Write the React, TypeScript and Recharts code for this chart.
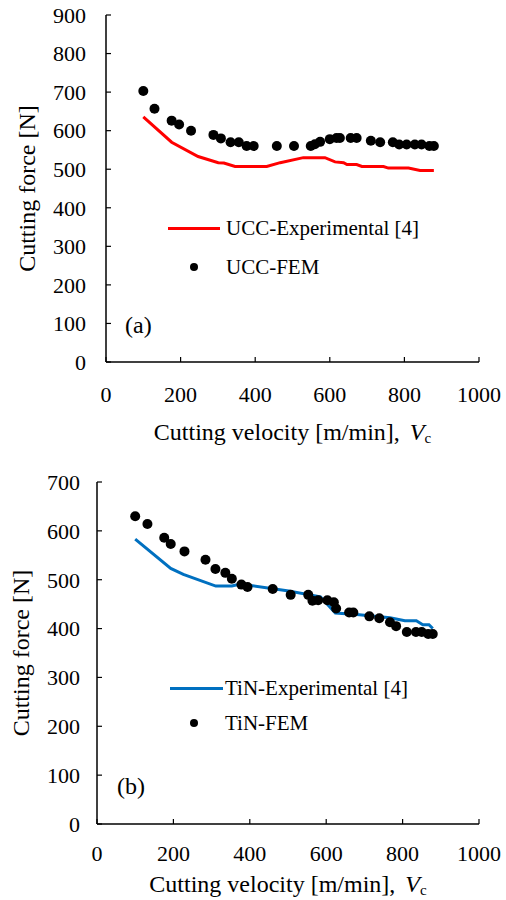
import { ComposedChart, Line, Scatter, XAxis, YAxis, Legend, Label } from "recharts";

// velocity ticks shared by both panels
const velocityTicks = [0, 200, 400, 600, 800, 1000];
const uccForceTicks = [0, 100, 200, 300, 400, 500, 600, 700, 800, 900];
const tinForceTicks = [0, 100, 200, 300, 400, 500, 600, 700];

// (a) UCC
const uccExpV = [100, 176, 247, 301, 316, 346, 431, 467, 529, 587, 614, 637, 646, 672, 686, 744, 757, 811, 842, 879];
const uccExpF = [636, 570, 533, 517, 516, 507, 507, 517, 530, 530, 519, 517, 512, 512, 507, 507, 503, 503, 497, 497];
const uccFemV = [100, 130, 176, 196, 228, 288, 308, 334, 356, 377, 396, 458, 504, 549, 560, 574, 600, 618, 627, 656, 672, 710, 735, 769, 786, 806, 828, 846, 867, 879];
const uccFemF = [703, 657, 626, 616, 600, 589, 580, 570, 570, 560, 560, 560, 560, 560, 565, 571, 578, 581, 581, 581, 581, 574, 570, 570, 564, 564, 564, 564, 560, 560];

// (b) TiN
const tinExpV = [100, 193, 226, 311, 353, 375, 502, 585, 624, 680, 767, 806, 836, 853, 869, 879];
const tinExpF = [583, 523, 511, 487, 487, 491, 477, 465, 432, 429, 422, 416, 416, 408, 408, 400];
const tinFemV = [100, 132, 176, 193, 229, 284, 310, 336, 353, 378, 394, 460, 507, 553, 564, 579, 603, 620, 626, 660, 671, 713, 739, 767, 783, 811, 835, 850, 867, 879];
const tinFemF = [630, 614, 586, 573, 558, 541, 522, 514, 502, 490, 485, 481, 469, 469, 457, 458, 458, 454, 441, 433, 433, 425, 421, 413, 405, 393, 393, 393, 389, 389];

const zip = (vs: number[], fs: number[]) => vs.map((v, i) => ({ v, f: fs[i] }));

const FONT = "'Liberation Serif', 'Times New Roman', serif";
const W = 506;
const H = 450;

const Dot = (p: any) => <circle cx={p.cx} cy={p.cy} r={5} fill="#000" />;

function Panel({
  tag,
  expName,
  femName,
  color,
  exp,
  fem,
  yMax,
  yTicks,
  margin,
  yWidth,
  xHeight,
  tickGap,
  yTitleX,
  xTitleDy,
  legend,
}: any) {
  const tickStyle = { fill: "#000", fontSize: 22, fontFamily: FONT };
  const frame = { stroke: "#000", strokeWidth: 1.5 };
  return (
    <ComposedChart width={W} height={H} margin={margin}>
      <XAxis
        type="number"
        dataKey="v"
        domain={[0, 1000]}
        ticks={velocityTicks}
        interval={0}
        axisLine={frame}
        tickLine={{ stroke: "#000", strokeWidth: 1.2 }}
        tickSize={-5}
        tickMargin={tickGap}
        tick={tickStyle}
        height={xHeight}
      >
        <Label
          content={(p: any) => (
            <text
              x={p.viewBox.x + p.viewBox.width / 2}
              y={p.viewBox.y + xTitleDy}
              textAnchor="middle"
              fontSize={24}
              fontFamily={FONT}
              fill="#000"
            >
              <tspan>Cutting velocity [m/min],</tspan>
              <tspan dx={10} fontStyle="italic">V</tspan>
              <tspan fontSize={15} dy={3}>c</tspan>
            </text>
          )}
        />
      </XAxis>
      <XAxis xAxisId="top" orientation="top" type="number" domain={[0, 1000]} height={0} tick={false} tickLine={false} axisLine={frame} />
      <YAxis
        type="number"
        dataKey="f"
        domain={[0, yMax]}
        ticks={yTicks}
        interval={0}
        axisLine={frame}
        tickLine={{ stroke: "#000", strokeWidth: 1.2 }}
        tickSize={-5}
        tickMargin={tickGap - 4}
        tick={tickStyle}
        width={yWidth}
      >
        <Label
          content={(p: any) => {
            const cy = p.viewBox.y + p.viewBox.height / 2;
            return (
              <text
                x={yTitleX}
                y={cy}
                transform={`rotate(-90 ${yTitleX} ${cy})`}
                textAnchor="middle"
                fontSize={24}
                fontFamily={FONT}
                fill="#000"
              >
                Cutting force [N]
              </text>
            );
          }}
        />
      </YAxis>
      <YAxis yAxisId="right" orientation="right" type="number" domain={[0, yMax]} width={0} tick={false} tickLine={false} axisLine={frame} />
      <Line
        data={exp}
        dataKey="f"
        type="linear"
        stroke={color}
        strokeWidth={3}
        dot={false}
        isAnimationActive={false}
        name={expName}
      />
      <Scatter data={fem} dataKey="f" fill="#000" shape={Dot} isAnimationActive={false} name={femName} />
      <Legend
        layout="horizontal"
        verticalAlign="middle"
        align="center"
        wrapperStyle={{ left: 0, top: 0, width: W, height: H, pointerEvents: "none" }}
        content={() => (
          <div style={{ position: "relative", width: W, height: H, fontFamily: FONT, color: "#000" }}>
            <div
              style={{
                position: "absolute",
                left: legend.lineX,
                top: legend.row1 - 1.5,
                width: legend.lineW,
                height: 3,
                background: color,
              }}
            />
            <div style={{ position: "absolute", left: legend.textX, top: legend.row1 - 10.5, fontSize: 21, lineHeight: "21px", whiteSpace: "nowrap" }}>
              {expName}
            </div>
            <div
              style={{
                position: "absolute",
                left: 190,
                top: legend.row2 - 4,
                width: 8,
                height: 8,
                borderRadius: 4,
                background: "#000",
              }}
            />
            <div style={{ position: "absolute", left: legend.textX, top: legend.row2 - 10.5, fontSize: 21, lineHeight: "21px", whiteSpace: "nowrap" }}>
              {femName}
            </div>
            <div style={{ position: "absolute", left: legend.tagX, top: legend.tagY, fontSize: 24, lineHeight: "24px" }}>
              {tag}
            </div>
          </div>
        )}
      />
    </ComposedChart>
  );
}

export default function App() {
  return (
    <div style={{ position: "absolute", left: 0, top: 0, width: W, height: 900, background: "#fff", fontFamily: FONT }}>
      <div style={{ position: "absolute", left: 0, top: 0 }}>
        <Panel
          tag="(a)"
          expName="UCC-Experimental [4]"
          femName="UCC-FEM"
          color="#ff0000"
          exp={zip(uccExpV, uccExpF)}
          fem={zip(uccFemV, uccFemF)}
          yMax={900}
          yTicks={uccForceTicks}
          margin={{ top: 15, right: 27, left: 0, bottom: 6 }}
          yWidth={106}
          xHeight={82}
          tickGap={29}
          yTitleX={35}
          xTitleDy={78}
          legend={{ lineX: 168, lineW: 52, textX: 226, row1: 228, row2: 267, tagX: 125, tagY: 313 }}
        />
      </div>
      <div style={{ position: "absolute", left: 0, top: 450 }}>
        <Panel
          tag="(b)"
          expName="TiN-Experimental [4]"
          femName="TiN-FEM"
          color="#0070c0"
          exp={zip(tinExpV, tinExpF)}
          fem={zip(tinFemV, tinFemF)}
          yMax={700}
          yTicks={tinForceTicks}
          margin={{ top: 32, right: 27, left: 0, bottom: 0 }}
          yWidth={97}
          xHeight={76}
          tickGap={26}
          yTitleX={29}
          xTitleDy={68}
          legend={{ lineX: 170, lineW: 53, textX: 225, row1: 238, row2: 273, tagX: 117, tagY: 324 }}
        />
      </div>
    </div>
  );
}
